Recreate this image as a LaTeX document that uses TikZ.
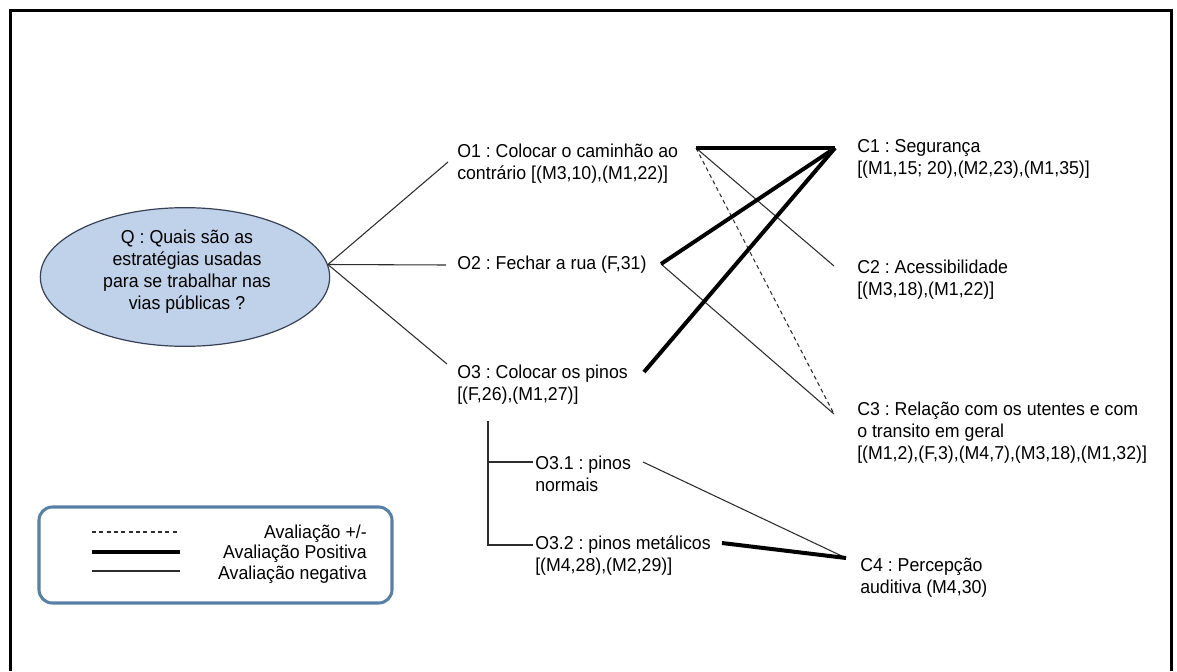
\documentclass[tikz,border=0pt]{standalone}
\usepackage{fontspec}
\setmainfont{Liberation Sans}[FakeStretch=0.95]
\usetikzlibrary{shapes.geometric}
\definecolor{qfill}{RGB}{192,210,234}
\definecolor{qline}{RGB}{55,65,85}
\definecolor{legline}{RGB}{88,128,165}
\definecolor{thinc}{RGB}{45,45,45}
\tikzset{
  lbl/.style={inner sep=0pt, anchor=west, align=left, font=\fontsize{14pt}{16.5pt}\selectfont\frenchspacing},
  negeval/.style={draw=thinc, line width=0.8pt},
  poseval/.style={draw=black, line width=3pt},
  mixeval/.style={draw=thinc, line width=0.8pt, dash pattern=on 3pt off 2.5pt},
  framestyle/.style={draw=black, line width=2.4pt},
}
\begin{document}
\begin{tikzpicture}[x=0.75pt, y=-0.75pt]
\useasboundingbox (0,0) rectangle (1177,671);
% outer frame
\draw[framestyle] (10.5,671) -- (10.5,10.5) -- (1171.5,10.5) -- (1171.5,671);

% question
\node[ellipse, draw=qline, line width=0.9pt, fill=qfill, minimum width=217pt, minimum height=104pt,
      inner sep=0pt] (q) at (185,277) {};
\node[inner sep=0pt, align=center, font=\fontsize{14pt}{16.5pt}\selectfont\frenchspacing] (qtext) at (187,272)
  {Q : Quais são as\\estratégias usadas\\para se trabalhar nas\\vias públicas ?};

% options
\node[lbl] (o1) at (457,164) {O1 : Colocar o caminhão ao\\contrário [(M3,10),(M1,22)]};
\node[lbl] (o2) at (457,265) {O2 : Fechar a rua (F,31)};
\node[lbl] (o3) at (457,385) {O3 : Colocar os pinos\\{[(F,26),(M1,27)]}};
\node[lbl] (o31) at (535,474) {O3.1 : pinos\\normais};
\node[lbl] (o32) at (535,556) {O3.2 : pinos metálicos\\{[(M4,28),(M2,29)]}};

% consequences
\node[lbl] (c1) at (857,159) {C1 : Segurança\\{[(M1,15; 20),(M2,23),(M1,35)]}};
\node[lbl] (c2) at (857,280) {C2 : Acessibilidade\\{[(M3,18),(M1,22)]}};
\node[lbl] (c3) at (857,433) {C3 : Relação com os utentes e com\\o transito em geral\\{[(M1,2),(F,3),(M4,7),(M3,18),(M1,32)]}};
\node[lbl] (c4) at (860,578) {C4 : Percepção\\auditiva (M4,30)};

% attachment points
\coordinate (o1l) at (448,162);
\coordinate (o2l) at (446,265);
\coordinate (o3l) at (447,364);
\coordinate (o1p) at (696,148);
\coordinate (o2p) at (661,264);
\coordinate (o3p) at (644,372);
\coordinate (o31p) at (643,462);
\coordinate (o32p) at (722,543);
\coordinate (c1p) at (835,148);
\coordinate (c2p) at (834,266);
\coordinate (c3p) at (834,414);
\coordinate (c4p) at (846,558);
\coordinate (o3b) at (488,421);
\coordinate (o31l) at (533,462);
\coordinate (o32l) at (533,545);

% question to options
\draw[negeval] (q.5) -- (o1l);
\draw[negeval] (q.5) -- (o2l);
\draw[negeval] (q.5) -- (o3l);

% sub-options of O3
\draw[negeval] (o3b) |- (o31l);
\draw[negeval] (o3b) |- (o32l);

% evaluations
\draw[negeval] (o1p) -- (c2p);
\draw[mixeval] (o1p) -- (c3p);
\draw[negeval] (o2p) -- (c3p);
\draw[negeval] (o31p) -- (c4p);
\draw[poseval] (o1p) -- (c1p);
\draw[poseval] (o2p) -- (c1p);
\draw[poseval] (o3p) -- (c1p);
\draw[poseval] (o32p) -- (c4p);

% legend
\draw[draw=legline, line width=2.3pt, fill=white, rounded corners=10pt] (39,507) rectangle (392,603);
\draw[mixeval] (92,532) -- (180,532);
\draw[poseval, line width=3.6pt] (92,552) -- (180,552);
\draw[negeval] (92,571) -- (180,571);
\node[inner sep=0pt, anchor=east, align=right, font=\fontsize{14pt}{15.3pt}\selectfont\frenchspacing] (leg) at (367,554)
  {Avaliação +/-\\Avaliação Positiva\\Avaliação negativa};
\end{tikzpicture}
\end{document}
